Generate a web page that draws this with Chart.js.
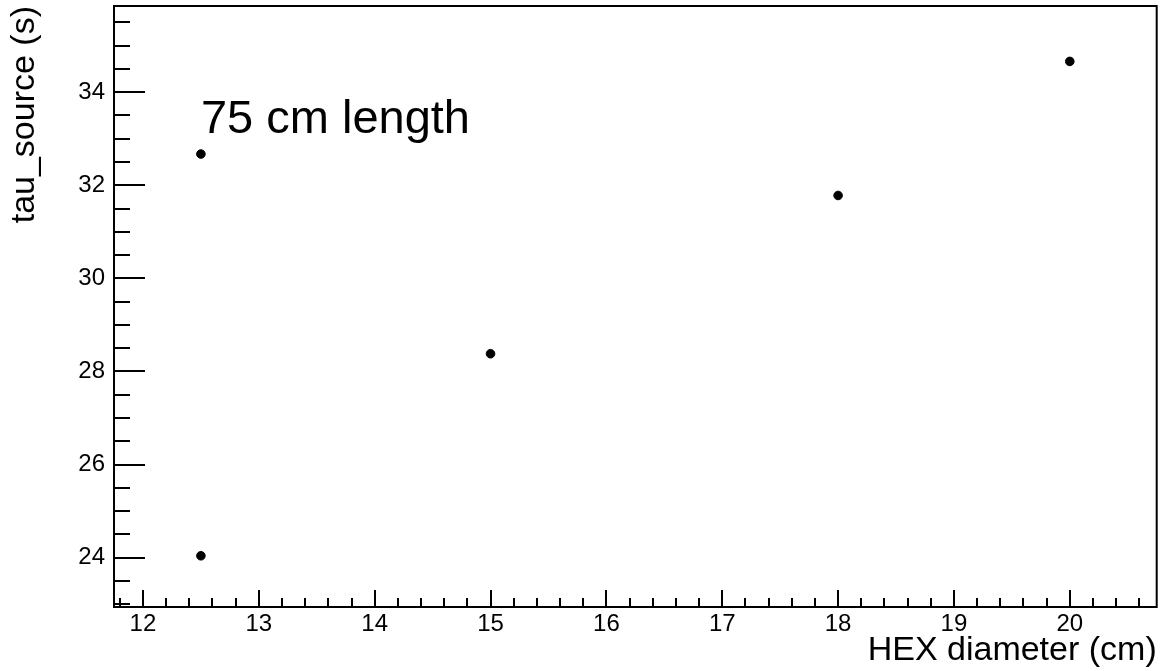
<!DOCTYPE html>
<html>
<head>
<meta charset="utf-8">
<script src="https://cdn.jsdelivr.net/npm/chart.js@4"></script>
<style>
html,body{margin:0;padding:0;background:#fff;}
#wrap{width:1162px;height:671px;}
</style>
</head>
<body>
<div id="wrap"><canvas id="myChart" width="1162" height="671"></canvas></div>
<script>
// HEX diameter (cm) vs tau_source (s), 75 cm length
var hexDiameter=[12.5,12.5,15,18,20];
var tauSource=[24.04,32.67,28.38,31.78,34.66];
var xTicks=[12,13,14,15,16,17,18,19,20];
var yTicks=[24,26,28,30,32,34];
var xRange=[11.75,20.75],yRange=[22.94,35.85];
var FONT='"Liberation Sans", Arial, Helvetica, sans-serif';

var pts=[];
for(var i=0;i<hexDiameter.length;i++){
    pts.push({x:hexDiameter[i],y:tauSource[i]});
}

// ROOT style frame + inward ticks + label
var rootFrame={
    id:'rootFrame',
    afterDraw:function(chart){
        var c=chart.ctx,a=chart.chartArea,x=chart.scales.x,y=chart.scales.y;
        c.save();
        c.strokeStyle='#000';
        c.lineWidth=2;
        c.strokeRect(a.left,a.top,a.right-a.left,a.bottom-a.top);
        c.beginPath();
        var k,v,px,len;
        for(k=Math.ceil(x.min*5);k<=Math.floor(x.max*5);k++){
            v=k/5;
            px=Math.round(x.getPixelForValue(v));
            len=(k%5==0)?17:9;
            c.moveTo(px,a.bottom);c.lineTo(px,a.bottom-len);
        }
        for(k=Math.ceil(y.min*2);k<=Math.floor(y.max*2);k++){
            v=k/2;
            px=Math.round(y.getPixelForValue(v));
            len=(k%4==0)?31:16;
            c.moveTo(a.left,px);c.lineTo(a.left+len,px);
        }
        c.stroke();
        c.fillStyle='#000';
        c.font='47px '+FONT;
        c.textAlign='left';
        c.textBaseline='alphabetic';
        c.fillText('75 cm length',x.getPixelForValue(12.5),y.getPixelForValue(33.12));
        c.restore();
    }
};

var ctx=document.getElementById('myChart').getContext('2d');
var chart=new Chart(ctx,{
    type:'scatter',
    data:{
        datasets:[{
            label:'tau_source',
            data:pts,
            backgroundColor:'#000',
            borderColor:'#000',
            pointRadius:4.3,
            pointHoverRadius:4.3
        }]
    },
    options:{
        responsive:false,
        animation:false,
        layout:{padding:{top:6,right:5,left:0,bottom:0}},
        plugins:{legend:{display:false},tooltip:{enabled:false}},
        scales:{
            x:{
                type:'linear',
                min:xRange[0],max:xRange[1],
                afterBuildTicks:function(s){s.ticks=xTicks.map(function(v){return {value:v};});},
                afterFit:function(s){s.height=64;s.paddingLeft=0;s.paddingRight=0;},
                grid:{display:false,drawTicks:false},
                border:{display:false},
                ticks:{color:'#000',font:{family:FONT,size:24},padding:3,maxRotation:0,autoSkip:false},
                title:{display:true,text:'HEX diameter (cm)',align:'end',color:'#000',
                    font:{family:FONT,size:34,lineHeight:1.2},padding:{top:0,bottom:0}}
            },
            y:{
                type:'linear',
                min:yRange[0],max:yRange[1],
                afterBuildTicks:function(s){s.ticks=yTicks.map(function(v){return {value:v};});},
                afterFit:function(s){s.width=114;s.paddingTop=0;s.paddingBottom=0;},
                grid:{display:false,drawTicks:false},
                border:{display:false},
                ticks:{color:'#000',font:{family:FONT,size:24},padding:9,autoSkip:false},
                title:{display:true,text:'tau_source (s)',align:'end',color:'#000',
                    font:{family:FONT,size:34,lineHeight:1.2},padding:{top:4,bottom:0}}
            }
        }
    },
    plugins:[rootFrame]
});
</script>
</body>
</html>
